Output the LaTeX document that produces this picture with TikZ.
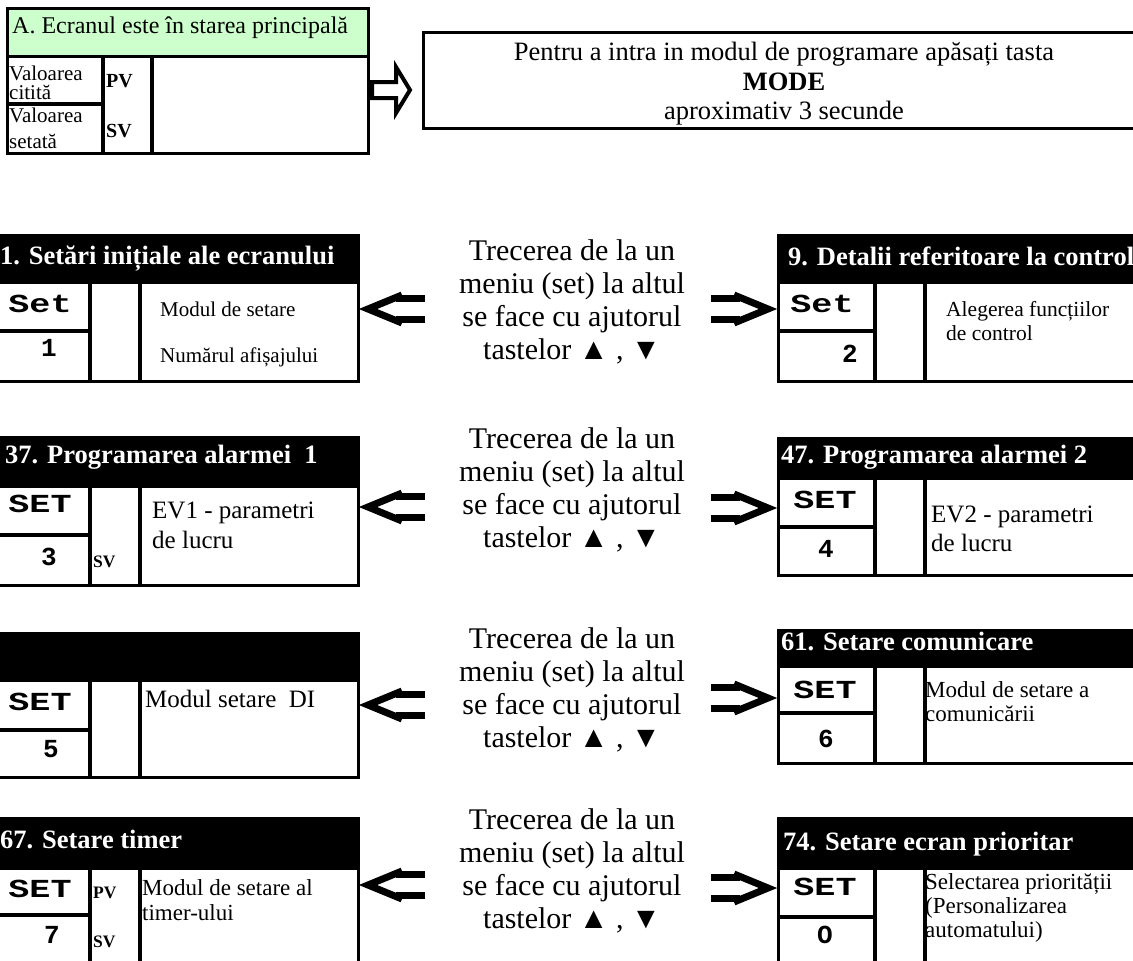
\documentclass[tikz,border=0pt]{standalone}
\usepackage{fontspec}
\usepackage{graphicx}
\setmainfont{Liberation Serif}
\setmonofont{Liberation Mono}
\definecolor{hdgreen}{RGB}{204,255,204}
\newcommand\menubox[5]{%
 \fill (#1,#2) rectangle ({#1+365},#3);
 \draw[bx] (#1,#2) rectangle ({#1+365},#5);
 \draw[dv] ({#1+97},#3) -- ({#1+97},#5);
 \draw[dv] ({#1+147},#3) -- ({#1+147},#5);
 \draw[dv] (#1,#4) -- ({#1+97},#4);}
\newcommand\larrow[2]{%
 \draw[arr] ({#1+44},{#2-14}) -- ({#1+10},#2) -- ({#1+44},{#2+14});
 \draw[arr] ({#1+38},{#2-10.5}) -- ({#1+67},{#2-10.5});
 \draw[arr] ({#1+38},{#2+10.5}) -- ({#1+67},{#2+10.5});}
\newcommand\rarrow[2]{%
 \draw[arr] ({#1-44},{#2-14}) -- ({#1-10},#2) -- ({#1-44},{#2+14});
 \draw[arr] ({#1-38},{#2-10.5}) -- ({#1-67},{#2-10.5});
 \draw[arr] ({#1-38},{#2+10.5}) -- ({#1-67},{#2+10.5});}
\newcommand\mtx[1]{\scalebox{1.35}[1]{#1}}
\begin{document}
\begin{tikzpicture}[x=1pt,y=-1pt,
 bx/.style={line width=3pt},
 dv/.style={line width=4pt},
 arr/.style={line width=7pt, miter limit=20},
 htxt/.style={text=white, font=\fontsize{26.5}{30}\selectfont\bfseries, anchor=base west, inner sep=0pt},
 ctxt/.style={font=\fontsize{25}{28}\selectfont, anchor=base west, inner sep=0pt},
 ttxt/.style={font=\fontsize{23}{24}\selectfont, anchor=base west, inner sep=0pt},
 stxt/.style={font=\fontsize{21}{24}\selectfont, anchor=base west, inner sep=0pt},
 mono/.style={font=\fontsize{26}{28}\selectfont\ttfamily\bfseries, anchor=base, inner sep=0pt},
 pvl/.style={font=\fontsize{17.5}{20}\selectfont\bfseries, anchor=base west, inner sep=0pt},
 mid/.style={font=\fontsize{30}{33}\selectfont, align=center, inner sep=0pt},
 mtext/.style={font=\fontsize{26.5}{30}\selectfont, anchor=base, inner sep=0pt}]
\useasboundingbox (0,0) rectangle (1133,961);
\clip (0,0) rectangle (1133,961);

% ---------- Box A ----------
\fill[hdgreen] (7,8) rectangle (368,56);
\node[font=\fontsize{24}{28}\selectfont, anchor=base west, inner sep=0pt] (ahead) at (12,33) {A. Ecranul este în starea principală};
\node[stxt] (av1) at (9,80) {Valoarea};
\node[stxt] (av2) at (9,99) {citită};
\node[stxt] (av3) at (9,122) {Valoarea};
\node[stxt] (av4) at (9,148) {setată};
\node[font=\fontsize{20}{22}\selectfont\bfseries, anchor=base west, inner sep=0pt] (apv) at (106,87) {PV};
\node[font=\fontsize{20}{22}\selectfont\bfseries, anchor=base west, inner sep=0pt] (asv) at (106,137) {SV};
\draw[bx] (7,8) rectangle (368,153);
\draw[bx] (7,56) -- (368,56);
\draw[dv] (103,56) -- (103,153);
\draw[dv] (152,56) -- (152,153);
\draw[dv] (7,104) -- (103,104);

% ---------- arrow to MODE box ----------
\draw[line width=4pt, fill=white, miter limit=20] (372,82) -- (396,82) -- (396,67) -- (410,90) -- (396,113) -- (396,98) -- (372,98) -- cycle;

% ---------- MODE box ----------
\draw[bx] (423,32) rectangle (1145,128);
\node[mtext] (m1) at (784,60) {Pentru a intra in modul de programare apăsați tasta};
\node[mtext, font=\fontsize{26.5}{30}\selectfont\bfseries] (m2) at (784,90) {MODE};
\node[mtext] (m3) at (784,119) {aproximativ 3 secunde};

% ---------- Row 1 ----------
\menubox{-7}{235}{284}{331}{381}
\node[htxt] (h1) at (0,264) {1. Setări inițiale ale ecranului};
\node[mono] (s1) at (40,312) {\mtx{Set}};
\node[mono] (n1) at (49,356) {1};
\node[stxt] (c1a) at (160,316) {Modul de setare};
\node[stxt] (c1b) at (160,362) {Numărul afișajului};

\menubox{778}{235}{284}{331}{381}
\node[htxt] (h2) at (788,265) {9. Detalii referitoare la control};
\node[mono] (s2) at (822,312) {\mtx{Set}};
\node[mono] (n2) at (850,362) {2};
\node[stxt, font=\fontsize{21.5}{24}\selectfont] (c2a) at (946,316) {Alegerea funcțiilor};
\node[stxt, font=\fontsize{21.5}{24}\selectfont] (c2b) at (946,340) {de control};

\node[mid] (x1) at (572,302) {Trecerea de la un\\meniu (set) la altul\\se face cu ajutorul\\tastelor ▲ , ▼};
\larrow{358}{309}
\rarrow{778}{309}

% ---------- Row 2 ----------
\menubox{-7}{437}{488}{535}{585}
\node[htxt] (h3) at (5,463) {37. Programarea alarmei \ 1};
\node[mono] (s3) at (40,512) {\mtx{SET}};
\node[mono] (n3) at (49,565) {3};
\node[pvl] (v3) at (93,567) {SV};
\node[ctxt] (c3a) at (152,518) {EV1 - parametri};
\node[ctxt] (c3b) at (152,548) {de lucru};

\menubox{778}{438}{480}{527}{575}
\node[htxt] (h4) at (781,463) {47. Programarea alarmei 2};
\node[mono] (s4) at (825,508) {\mtx{SET}};
\node[mono] (n4) at (826,557) {4};
\node[ctxt] (c4a) at (931,522) {EV2 - parametri};
\node[ctxt] (c4b) at (931,551) {de lucru};

\node[mid] (x2) at (572,490) {Trecerea de la un\\meniu (set) la altul\\se face cu ajutorul\\tastelor ▲ , ▼};
\larrow{358}{507}
\rarrow{778}{508}

% ---------- Row 3 ----------
\menubox{-7}{633}{682}{730}{777}
\node[mono] (s5) at (40,710) {\mtx{SET}};
\node[mono] (n5) at (51,757) {5};
\node[ctxt] (c5a) at (145,707) {Modul setare \ DI};

\menubox{778}{630}{668}{713}{763}
\node[htxt] (h6) at (781,650) {61. Setare comunicare};
\node[mono] (s6) at (825,698) {\mtx{SET}};
\node[mono] (n6) at (826,747) {6};
\node[ttxt] (c6a) at (925,697) {Modul de setare a};
\node[ttxt] (c6b) at (925,721) {comunicării};

\node[mid] (x3) at (572,690) {Trecerea de la un\\meniu (set) la altul\\se face cu ajutorul\\tastelor ▲ , ▼};
\larrow{358}{705}
\rarrow{778}{698}

% ---------- Row 4 ----------
\menubox{-7}{818}{870}{915}{975}
\node[htxt] (h7) at (0,848) {67. Setare timer};
\node[mono] (s7) at (40,897) {\mtx{SET}};
\node[mono] (n7) at (52,943) {7};
\node[pvl] (p7) at (93,898) {PV};
\node[pvl] (v7) at (93,947) {SV};
\node[ttxt] (c7a) at (142,895) {Modul de setare al};
\node[ttxt] (c7b) at (142,920) {timer-ului};

\menubox{778}{818}{870}{917}{975}
\node[htxt] (h8) at (783,850) {74. Setare ecran prioritar};
\node[mono] (s8) at (825,895) {\mtx{SET}};
\node[mono] (n8) at (825,943) {O};
\node[ttxt] (c8a) at (925,889) {Selectarea priorității};
\node[ttxt] (c8b) at (925,913) {(Personalizarea};
\node[ttxt] (c8c) at (925,937) {automatului)};

\node[mid] (x4) at (572,871) {Trecerea de la un\\meniu (set) la altul\\se face cu ajutorul\\tastelor ▲ , ▼};
\larrow{358}{885}
\rarrow{778}{888}
\end{tikzpicture}
\end{document}
